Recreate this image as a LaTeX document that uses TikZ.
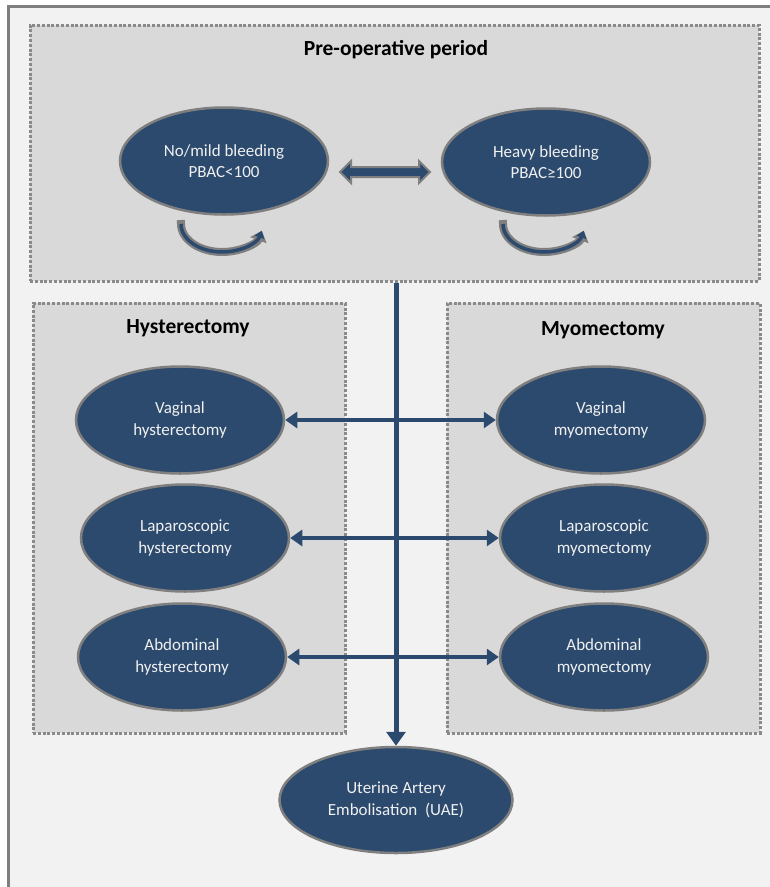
\documentclass[tikz,border=0pt]{standalone}
\usepackage{fontspec}
\setmainfont{Carlito}
\usetikzlibrary{shapes.geometric,shapes.arrows,arrows.meta}
\definecolor{navy}{HTML}{2C4A6E}
\definecolor{edgegray}{HTML}{7F7F7F}
\definecolor{panel}{HTML}{D9D9D9}
\definecolor{bgcol}{HTML}{F2F2F2}
\definecolor{dotgray}{HTML}{8A8A8A}
\begin{document}
\begin{tikzpicture}[x=1pt,y=-1pt,
  state/.style={ellipse, fill=navy, draw=edgegray, line width=2.5pt,
    minimum width=208pt, minimum height=107pt, text=white!94!black,
    font=\fontsize{17}{21.5}\selectfont, align=center, inner sep=0pt},
  panelbox/.style={rectangle, fill=panel, draw=dotgray, line width=3pt,
    dash pattern=on 3pt off 1.8pt, inner sep=0pt},
  paneltitle/.style={font=\fontsize{21.5}{25}\selectfont\bfseries, text=black},
  link/.style={draw=navy, line width=4pt,
    {Triangle[length=12pt,width=16pt]}-{Triangle[length=12pt,width=16pt]}},
  loopout/.style={draw=edgegray, line width=8pt, line cap=rect, -{Triangle[length=10pt,width=17pt]}},
  loopin/.style={draw=navy, line width=3.5pt, -{Triangle[length=7pt,width=10pt]}},
]
\useasboundingbox (0,0) rectangle (770,887);
\clip (0,0) rectangle (770,887);
\fill[white] (0,0) rectangle (770,887);
\draw[fill=bgcol, draw=edgegray, line width=3pt] (8,6) rectangle (800,920);

% panels
\node[panelbox, minimum width=729pt, minimum height=256pt] (pre) at (394.5,153) {};
\node[panelbox, minimum width=312pt, minimum height=430pt] (hyst) at (189,518) {};
\node[panelbox, minimum width=313pt, minimum height=430pt] (myo) at (603.5,518) {};

\node[paneltitle] (pretitle) at (396,50) {Pre-operative period};
\node[paneltitle] (hysttitle) at (188,328) {Hysterectomy};
\node[paneltitle] (myotitle) at (603,330) {Myomectomy};

% states
\node[state] (mild) at (224,161) {No/mild bleeding\\PBAC<100};
\node[state] (heavy) at (546,162) {Heavy bleeding\\PBAC≥100};

\node[state] (vh) at (180,420) {Vaginal\\hysterectomy};
\node[state] (lh) at (185,538) {Laparoscopic\\hysterectomy};
\node[state] (ah) at (182,657) {Abdominal\\hysterectomy};

\node[state] (vm) at (601,420) {Vaginal\\myomectomy};
\node[state] (lm) at (604,538) {Laparoscopic\\myomectomy};
\node[state] (am) at (604,657) {Abdominal\\myomectomy};

\node[state, minimum width=233pt, minimum height=106pt] (uae) at (396,800) {Uterine Artery\\Embolisation~ (UAE)};

% double block arrow between bleeding states
\node[double arrow, fill=navy, draw=edgegray, line width=2pt,
  minimum height=90pt, minimum width=22pt, double arrow head extend=6pt,
  inner sep=4pt] (swap) at (385,172) {};

% curved self arrows
\draw[loopout] (181,224) arc[start angle=180, end angle=14, x radius=41, y radius=28];
\draw[loopin] (181,224) arc[start angle=180, end angle=14, x radius=41, y radius=28];
\draw[loopout] (503,224) arc[start angle=180, end angle=14, x radius=41, y radius=28];
\draw[loopin] (503,224) arc[start angle=180, end angle=14, x radius=41, y radius=28];

% horizontal links
\draw[link] (vh.east) -- (vm.west);
\draw[link] (lh.east) -- (lm.west);
\draw[link] (ah.east) -- (am.west);

% vertical arrow
\draw[draw=navy, line width=5pt, -{Triangle[length=14pt,width=19pt]}]
  (pre.south -| uae.north) -- (uae.north);
\end{tikzpicture}
\end{document}
